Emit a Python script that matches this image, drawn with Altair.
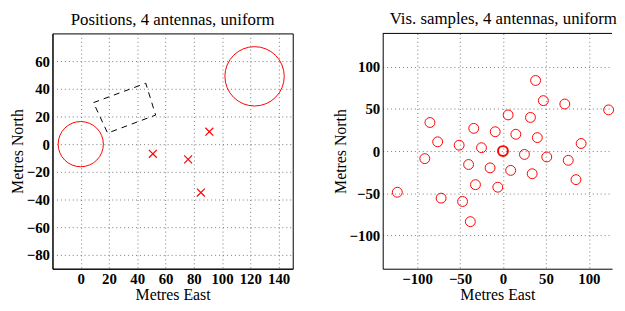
import altair as alt
import pandas as pd

# ---------------- data ----------------
# Left panel: antenna positions (red crosses)
ant_east = [51, 76, 91, 85]
ant_north = [-7, -11, 9, -35]
# Left panel: large red rings (centre + radius, metres)
ring_east = [0, 123]
ring_north = [0, 49]
ring_radius = [16, 21]
# Left panel: dashed outline (closed polygon corners)
box_east = [9, 46, 53, 19, 9]
box_north = [30, 44, 21, 8, 30]

# Right panel: visibility samples
vis_east = [0, 123, -123, 51, -51, 76, -76, 91, -91, 85, -85, 72, -72, 47, -47,
            32, -32, 38, -38, 25, -25, 40, -40, 34, -34, 15, -15, 9, -9, 6, -6]
vis_north = [0, 49, -49, -7, 7, -11, 11, 9, -9, -34, 34, 56, -56, 60, -60,
             40, -40, 84, -84, -4, 4, 16, -16, -27, 27, 20, -20, -23, 23, 43, -43]

left_x_ticks = [0, 20, 40, 60, 80, 100, 120, 140]
left_y_ticks = [-80, -60, -40, -20, 0, 20, 40, 60]
right_ticks = [-100, -50, 0, 50, 100]

# ---------------- layout ----------------
FONT = "Liberation Serif"
LW, LH = 243, 238
RW, RH = 232, 238
LXD, LYD = [-20, 150], [-90, 80]
RXD, RYD = [-140, 127], [-140, 140]
RED = "#ff0000"
k_left = LW / (LXD[1] - LXD[0])


def axis(values, title, orient):
    return alt.Axis(values=values, title=title, grid=True, gridDash=[1, 3],
                    gridColor="#777777", gridWidth=1, gridOpacity=1,
                    ticks=False, domain=True, domainColor="black", domainWidth=1,
                    labelFont=FONT, labelFontSize=15, labelFontWeight="bold",
                    labelColor="black", labelPadding=3,
                    titleFont=FONT, titleFontSize=16, titleFontWeight="normal",
                    titleColor="black", titlePadding=1 if orient == "y" else 0,
                    format="d")


# ---------------- left panel ----------------
ants = pd.DataFrame({"e": ant_east, "n": ant_north})
rings = pd.DataFrame({"e": ring_east, "n": ring_north, "r": ring_radius})
rings["size"] = (2 * rings["r"] * k_left) ** 2
box = pd.DataFrame({"e": box_east, "n": box_north, "i": list(range(len(box_east)))})

lx = alt.X("e:Q", scale=alt.Scale(domain=LXD, nice=False, zero=False),
           axis=axis(left_x_ticks, "Metres East", "x"))
ly = alt.Y("n:Q", scale=alt.Scale(domain=LYD, nice=False, zero=False),
           axis=axis(left_y_ticks, "Metres North", "y"))

ring_layer = alt.Chart(rings).mark_point(shape="circle", filled=False, color=RED,
                                         strokeWidth=1, opacity=1).encode(
    x=lx, y=ly, size=alt.Size("size:Q", scale=None, legend=None))
ant_layer = alt.Chart(ants).mark_point(shape="M-1,-1L1,1M-1,1L1,-1", filled=False,
                                       color=RED, size=64, strokeWidth=1.2,
                                       opacity=1).encode(x=lx, y=ly)
box_layer = alt.Chart(box).mark_line(color="black", strokeDash=[6, 5],
                                     strokeWidth=1).encode(
    x=lx, y=ly, order=alt.Order("i:Q"))

left = alt.layer(box_layer, ring_layer, ant_layer).properties(
    width=LW, height=LH,
    title=alt.TitleParams("Positions, 4 antennas, uniform", font=FONT, fontSize=17,
                          fontWeight="normal", color="black", offset=5),
    view=alt.ViewBackground(stroke="black", strokeWidth=1),
)

# ---------------- right panel ----------------
vis = pd.DataFrame({"e": vis_east, "n": vis_north})
vis["w"] = [2 if (a == 0 and b == 0) else 1 for a, b in zip(vis_east, vis_north)]

rx = alt.X("e:Q", scale=alt.Scale(domain=RXD, nice=False, zero=False),
           axis=axis(right_ticks, "Metres East", "x"))
ry = alt.Y("n:Q", scale=alt.Scale(domain=RYD, nice=False, zero=False),
           axis=axis(right_ticks, "Metres North", "y"))

vis_layer = alt.Chart(vis).mark_point(shape="circle", filled=False, color=RED,
                                      size=100, opacity=1).encode(
    x=rx, y=ry, strokeWidth=alt.StrokeWidth("w:Q", scale=None, legend=None))
top_rule = alt.Chart(pd.DataFrame({"a": [0]})).mark_rule(
    color="black", strokeWidth=1).encode(
    x=alt.value(0), x2=alt.value(RW), y=alt.value(0))

right = alt.layer(vis_layer, top_rule).properties(
    width=RW, height=RH,
    title=alt.TitleParams("Vis. samples, 4 antennas, uniform", font=FONT,
                          fontSize=17, fontWeight="normal", color="black",
                          offset=5, dx=6),
    view=alt.ViewBackground(stroke=None),
)

chart = alt.hconcat(left, right, spacing=38, padding=0).configure(
    background="white")

chart.save("out.html", embed_options={"renderer": "svg", "actions": False})
